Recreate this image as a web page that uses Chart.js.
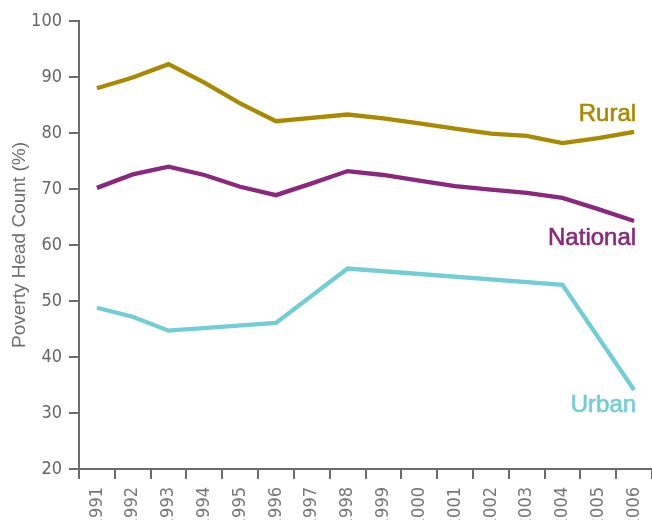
<!DOCTYPE html>
<html>
<head>
<meta charset="utf-8">
<script src="https://cdn.jsdelivr.net/npm/chart.js@4"></script>
<style>
  html, body { margin: 0; padding: 0; background: #fff; overflow: hidden; }
  #wrap { width: 652px; height: 520px; position: relative; }
</style>
</head>
<body>
<div id="wrap"><canvas id="chart"></canvas></div>
<script>
const years = ["1991","1992","1993","1994","1995","1996","1997","1998","1999","2000","2001","2002","2003","2004","2005","2006"];
const rural = [88.0, 89.9, 92.3, 89.0, 85.3, 82.1, 82.7, 83.3, 82.6, 81.7, 80.8, 79.9, 79.5, 78.2, 79.1, 80.2];
const national = [70.2, 72.6, 74.0, 72.5, 70.4, 68.9, 71.0, 73.2, 72.5, 71.5, 70.5, 69.9, 69.3, 68.4, 66.4, 64.3];
const urban = [48.8, 47.2, 44.7, null, null, 46.1, null, 55.8, null, null, null, null, null, 52.9, null, 34.1];
const seriesNames = ["Rural", "National", "Urban"];
const yTicks = [20, 30, 40, 50, 60, 70, 80, 90, 100];

const colors = ["#a88a00", "#8a287e", "#72cdd4"];
// label baseline offset from the series' last point
const labelDy = [-11, 24, 22];

const axisGray = "#6b6b6b";
const tickFont = { family: "'Liberation Sans Narrow', 'DejaVu Sans Condensed', sans-serif", size: 18 };

const endLabels = {
  id: "endLabels",
  afterDatasetsDraw(chart) {
    const ctx = chart.ctx;
    ctx.save();
    ctx.font = "24px 'Liberation Sans', Arial, sans-serif";
    ctx.textAlign = "right";
    ctx.textBaseline = "alphabetic";
    ctx.lineWidth = 0.6;
    chart.data.datasets.forEach((ds, i) => {
      const pts = chart.getDatasetMeta(i).data;
      const last = pts[pts.length - 1];
      ctx.fillStyle = colors[i];
      ctx.strokeStyle = colors[i];
      ctx.fillText(ds.label, last.x + 2, last.y + labelDy[i]);
      ctx.strokeText(ds.label, last.x + 2, last.y + labelDy[i]);
    });
    ctx.restore();
  }
};

const ctx = document.getElementById("chart").getContext("2d");
new Chart(ctx, {
  type: "line",
  data: {
    labels: years,
    datasets: [rural, national, urban].map((d, i) => ({
      label: seriesNames[i],
      data: d,
      borderColor: colors[i],
      backgroundColor: colors[i],
      borderWidth: 4.3,
      pointRadius: 0,
      tension: 0,
      spanGaps: true,
      borderJoinStyle: "miter",
      fill: false
    }))
  },
  options: {
    responsive: true,
    maintainAspectRatio: false,
    animation: false,
    layout: { padding: { top: 21, right: 0, left: 0, bottom: 0 } },
    plugins: {
      legend: { display: false },
      tooltip: { enabled: false }
    },
    scales: {
      x: {
        type: "category",
        offset: true,
        afterFit: (scale) => {
          scale.height = 51;
          scale.paddingLeft = 0;
          scale.paddingRight = 0;
        },
        grid: {
          offset: true,
          drawOnChartArea: false,
          drawTicks: true,
          tickLength: 10,
          color: axisGray,
          lineWidth: 2
        },
        border: { color: axisGray, width: 2 },
        ticks: {
          autoSkip: false,
          minRotation: 90,
          maxRotation: 90,
          padding: 8,
          color: "#777",
          font: tickFont
        }
      },
      y: {
        min: 20,
        max: 100,
        afterFit: (scale) => {
          scale.width = 79;
          scale.paddingTop = 0;
          scale.paddingBottom = 0;
        },
        afterBuildTicks: (scale) => { scale.ticks = yTicks.map(v => ({ value: v })); },
        grid: {
          drawOnChartArea: false,
          drawTicks: true,
          tickLength: 10,
          color: axisGray,
          lineWidth: 2
        },
        border: { color: axisGray, width: 2 },
        ticks: {
          padding: 7,
          color: "#666",
          font: tickFont
        },
        title: {
          display: true,
          text: "Poverty Head Count (%)",
          color: "#6e6e6e",
          font: { family: "'Liberation Sans', Arial, sans-serif", size: 19 },
          padding: { top: 8, bottom: 0 }
        }
      }
    }
  },
  plugins: [endLabels]
});
</script>
</body>
</html>
